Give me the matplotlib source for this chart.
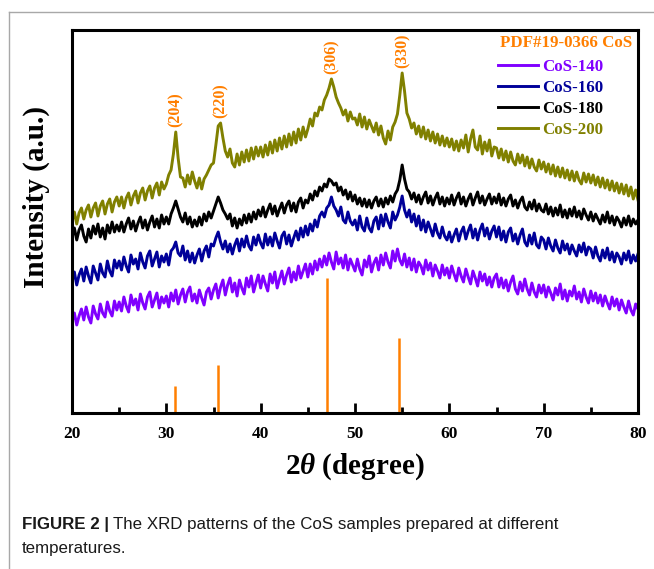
import matplotlib
matplotlib.use('Agg')
import matplotlib.pyplot as plt
from matplotlib.lines import Line2D
import numpy as np

plt.rcParams['font.family'] = ['Liberation Serif', 'DejaVu Serif']
plt.rcParams['font.weight'] = 'bold'
plt.rcParams['mathtext.fontset'] = 'custom'
plt.rcParams['mathtext.rm'] = 'Liberation Serif:bold'
plt.rcParams['mathtext.it'] = 'Liberation Serif:italic:bold'
plt.rcParams['mathtext.bf'] = 'Liberation Serif:bold'

# 2theta grid, 0.25 deg step from 20 to 80
two_theta = np.linspace(20, 80, 241)

# intensities (a.u.), one row = 5 degrees
cos_140 = [
    91, 100, 88, 97, 104, 93, 106, 96, 90, 107, 99, 94, 109, 100, 96, 111, 102, 97, 112, 103,
    111, 102, 116, 107, 101, 118, 108, 114, 103, 119, 110, 104, 116, 121, 106, 113, 120, 105, 116, 110,
    117, 106, 120, 112, 123, 109, 118, 124, 111, 121, 126, 112, 119, 110, 123, 115, 108, 121, 125, 114,
    123, 129, 115, 126, 133, 118, 128, 135, 121, 130, 117, 133, 125, 119, 135, 126, 137, 121, 130, 138,
    125, 137, 129, 122, 139, 130, 141, 125, 134, 142, 129, 138, 145, 131, 141, 133, 147, 135, 142, 149,
    136, 149, 139, 152, 143, 154, 146, 157, 148, 160, 151, 144, 161, 149, 155, 145, 158, 143, 154, 148,
    142, 154, 144, 138, 153, 146, 157, 141, 150, 155, 143, 158, 148, 160, 151, 145, 162, 152, 164, 153,
    148, 159, 146, 155, 143, 154, 141, 151, 147, 139, 153, 143, 150, 137, 148, 142, 135, 148, 138, 145,
    135, 147, 139, 132, 145, 137, 131, 144, 136, 129, 142, 135, 127, 141, 132, 139, 128, 136, 126, 135,
    139, 126, 135, 125, 133, 122, 131, 137, 124, 119, 131, 122, 134, 124, 118, 130, 121, 116, 128, 120,
    128, 116, 126, 120, 113, 125, 118, 129, 114, 123, 112, 122, 117, 127, 114, 121, 111, 124, 116, 110,
    122, 112, 120, 110, 118, 107, 117, 110, 104, 116, 107, 114, 103, 113, 106, 100, 112, 103, 98, 109,
    104,
]
cos_160 = [
    131, 141, 128, 138, 144, 132, 146, 137, 130, 147, 140, 133, 149, 140, 136, 152, 142, 137, 153, 145,
    152, 143, 156, 147, 141, 158, 149, 154, 144, 160, 151, 145, 157, 162, 147, 154, 161, 146, 157, 151,
    159, 148, 162, 165, 171, 160, 157, 167, 153, 162, 151, 160, 150, 158, 164, 152, 162, 167, 156, 169,
    167, 175, 181, 171, 164, 172, 161, 169, 159, 168, 174, 162, 174, 166, 177, 167, 163, 176, 168, 178,
    170, 165, 179, 168, 176, 167, 180, 172, 165, 177, 181, 169, 178, 167, 175, 182, 173, 185, 176, 187,
    178, 189, 182, 193, 186, 197, 201, 196, 205, 208, 216, 207, 203, 197, 206, 193, 190, 201, 192, 188,
    193, 183, 197, 186, 182, 195, 185, 181, 192, 196, 184, 198, 187, 199, 191, 185, 201, 193, 198, 206,
    217, 203, 196, 203, 191, 199, 187, 197, 183, 193, 181, 191, 184, 177, 189, 180, 175, 186, 177, 173,
    181, 171, 178, 184, 172, 181, 186, 174, 182, 188, 175, 184, 173, 183, 189, 177, 185, 174, 182, 187,
    176, 186, 173, 182, 171, 181, 185, 172, 179, 169, 178, 184, 171, 167, 178, 169, 180, 168, 165, 176,
    173, 164, 175, 167, 162, 173, 165, 160, 172, 163, 169, 159, 168, 162, 157, 168, 161, 170, 158, 166,
    164, 155, 166, 157, 152, 163, 155, 165, 153, 161, 151, 160, 156, 149, 160, 153, 162, 150, 158, 152,
    159,
]
cos_180 = [
    175, 185, 173, 183, 188, 177, 171, 184, 175, 187, 179, 189, 176, 185, 174, 188, 180, 191, 181, 188,
    182, 191, 181, 189, 195, 184, 192, 182, 190, 196, 185, 193, 183, 191, 197, 186, 194, 185, 198, 189,
    196, 189, 199, 205, 212, 204, 196, 191, 200, 189, 196, 186, 193, 187, 196, 188, 199, 192, 201, 195,
    202, 209, 216, 210, 203, 199, 194, 199, 187, 195, 185, 194, 188, 198, 190, 199, 191, 201, 194, 203,
    197, 206, 196, 203, 209, 199, 207, 197, 204, 210, 200, 208, 212, 202, 210, 201, 211, 215, 205, 213,
    210, 219, 213, 222, 217, 226, 222, 229, 226, 234, 232, 228, 230, 222, 226, 218, 223, 214, 221, 212,
    218, 209, 215, 207, 214, 206, 213, 205, 212, 216, 207, 214, 206, 215, 209, 217, 211, 219, 223, 233,
    248, 234, 224, 221, 214, 220, 211, 218, 209, 216, 221, 210, 217, 208, 215, 220, 209, 216, 207, 215,
    209, 218, 208, 215, 220, 209, 216, 207, 214, 219, 208, 215, 221, 210, 217, 208, 214, 219, 209, 216,
    210, 219, 208, 215, 207, 214, 218, 207, 213, 205, 212, 216, 206, 203, 211, 204, 213, 202, 209, 203,
    201, 209, 199, 206, 197, 205, 198, 208, 196, 203, 195, 204, 197, 206, 196, 202, 194, 204, 198, 193,
    201, 192, 199, 194, 189, 198, 191, 201, 190, 197, 188, 196, 192, 186, 195, 188, 197, 187, 194, 189,
    193,
]
cos_200 = [
    191, 201, 189, 200, 205, 194, 203, 208, 196, 205, 210, 197, 207, 212, 199, 209, 214, 201, 211, 216,
    207, 216, 205, 215, 220, 208, 217, 222, 210, 220, 225, 213, 222, 227, 215, 225, 230, 218, 231, 224,
    229, 238, 243, 259, 281, 255, 236, 235, 226, 238, 229, 241, 232, 225, 235, 224, 234, 238, 243, 248,
    250, 268, 287, 290, 275, 262, 256, 264, 250, 246, 259, 248, 261, 251, 263, 252, 265, 254, 266, 257,
    266, 256, 268, 258, 271, 260, 273, 262, 275, 264, 277, 266, 279, 268, 281, 270, 284, 273, 286, 276,
    284, 294, 287, 300, 297, 306, 303, 313, 318, 325, 334, 326, 316, 310, 305, 298, 303, 292, 301, 294,
    295, 288, 299, 286, 296, 284, 293, 287, 281, 290, 278, 287, 275, 269, 282, 273, 286, 291, 299, 318,
    340, 322, 300, 294, 285, 290, 279, 287, 276, 286, 274, 283, 272, 281, 270, 279, 268, 277, 267, 275,
    266, 274, 263, 272, 262, 273, 265, 278, 261, 274, 283, 266, 263, 277, 259, 271, 262, 273, 257, 266,
    265, 255, 264, 253, 262, 251, 261, 252, 248, 259, 250, 258, 247, 256, 245, 254, 246, 242, 253, 244,
    251, 241, 249, 239, 248, 237, 246, 236, 245, 235, 243, 233, 242, 232, 241, 233, 229, 240, 231, 239,
    230, 238, 228, 236, 226, 235, 225, 233, 223, 232, 222, 230, 220, 229, 219, 228, 217, 226, 214, 223,
    213,
]

series_names = ['CoS-140', 'CoS-160', 'CoS-180', 'CoS-200']
series_data = [cos_140, cos_160, cos_180, cos_200]
series_colors = ['#8000FF', '#000099', '#000000', '#808000']

# PDF#19-0366 reference lines
pdf_pos = [30.9, 35.5, 47.0, 54.7]
pdf_int = [27, 48, 135, 75]
hkl = ['(204)', '(220)', '(306)', '(330)']
orange = '#FF7F00'

fig = plt.figure(figsize=(6.54, 5.69), dpi=100)
ax = fig.add_axes([72 / 654, 1 - 413 / 569, 566 / 654, 383 / 569])

ax.vlines(pdf_pos, 0, pdf_int, color=orange, linewidth=1.8)

lines = []
for name, data, col in zip(series_names, series_data, series_colors):
    ln, = ax.plot(two_theta, data, color=col, linewidth=2.1, label=name)
    lines.append(ln)

# peak indices on top of the CoS-200 pattern
y200 = np.array(cos_200)
for pos, lab in zip(pdf_pos, hkl):
    m = (two_theta > pos - 1.0) & (two_theta < pos + 1.0)
    i = np.argmax(np.where(m, y200, -1))
    ax.text(two_theta[i], y200[i] + 5, lab, rotation=90, color=orange,
            ha='center', va='bottom', fontsize=11.5, fontweight='bold')

ax.set_xlim(20, 80)
ax.set_ylim(0, 383)
ax.set_xticks([20, 30, 40, 50, 60, 70, 80])
ax.set_xticks([25, 35, 45, 55, 65, 75], minor=True)
ax.set_yticks([])
ax.tick_params(axis='x', which='major', direction='in', length=7, width=2,
               labelsize=12.5, pad=9)
ax.tick_params(axis='x', which='minor', direction='in', length=4.5, width=2)
for sp in ax.spines.values():
    sp.set_linewidth(2.2)

ax.set_xlabel(r'2$\theta$ (degree)', fontsize=21, fontweight='bold', labelpad=7)
ax.set_ylabel('Intensity (a.u.)', fontsize=21, fontweight='bold')
ax.yaxis.set_label_coords(-0.038, 0.564)

ax.text(0.756, 0.966, 'PDF#19-0366 CoS', transform=ax.transAxes, color=orange,
        fontsize=12.2, fontweight='bold', ha='left', va='center')
ax.legend(handles=lines, loc='upper left', bbox_to_anchor=(0.7527, 0.925),
          frameon=False, handlelength=2.35, handletextpad=0.25,
          labelspacing=0.3, borderpad=0, borderaxespad=0, labelcolor='linecolor',
          prop={'weight': 'bold', 'size': 12.2})

# page frame lines and caption
gray = '#A8A8A8'
fig.add_artist(Line2D([9 / 654, 1], [1 - 12 / 569, 1 - 12 / 569], color=gray,
                      linewidth=1, transform=fig.transFigure))
fig.add_artist(Line2D([9 / 654, 9 / 654], [0, 1 - 12 / 569], color=gray,
                      linewidth=1, transform=fig.transFigure))

cap_font = ['Liberation Sans Narrow', 'Liberation Sans']
t1 = fig.text(22 / 654, 1 - 524 / 569, 'FIGURE 2 |', family=cap_font,
              fontweight='bold', fontsize=12.2, va='center', ha='left', color='#1a1a1a')
fig.canvas.draw()
bb = t1.get_window_extent()
fig.text((bb.x1 + 4) / 654, 1 - 524 / 569,
         'The XRD patterns of the CoS samples prepared at different',
         family=cap_font, fontweight='normal', fontsize=12.2, va='center', ha='left',
         color='#1a1a1a')
fig.text(22 / 654, 1 - 548 / 569, 'temperatures.', family=cap_font,
         fontweight='normal', fontsize=12.2, va='center', ha='left', color='#1a1a1a')

fig.savefig('out.png', dpi=100)
